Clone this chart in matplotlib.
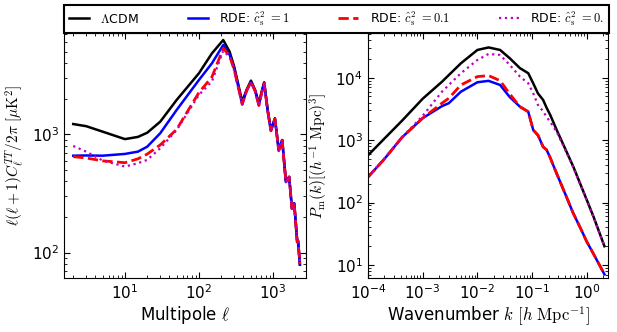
import matplotlib
matplotlib.use("Agg")
import matplotlib.pyplot as plt
import numpy as np

plt.rcParams['mathtext.fontset'] = 'cm'
plt.rcParams['font.family'] = 'DejaVu Sans'

# --- CMB TT spectrum (left panel) ---
ell = [2, 3, 5, 10, 15, 20, 30, 50, 100, 150, 213, 260, 300, 385, 440, 505, 575,
       647, 705, 762, 850, 940, 1065, 1200, 1336, 1500, 1660, 1808, 1943, 2132,
       2190, 2317]
cl_lcdm = [1220, 1170, 1052, 910, 950, 1030, 1277, 1950, 3275, 4830, 6260, 4990,
           3725, 1885, 2370, 2840, 2370, 1830, 2290, 2750, 1605, 1087, 1365, 737,
           895, 398, 438, 237, 261, 124, 126, 79]
cl_c1 = [659, 662, 659, 682, 713, 785, 1020, 1604, 2875, 3980, 5680, 4700, 3600,
         1800, 2330, 2780, 2330, 1760, 2250, 2700, 1590, 1075, 1350, 730, 890,
         395, 435, 236, 260, 123, 125, 80]
cl_c01 = [647, 630, 596, 575, 620, 680, 812, 1100, 2250, 3050, 5320, 4600, 3500,
          1790, 2320, 2770, 2320, 1750, 2240, 2690, 1580, 1070, 1345, 728, 888,
          394, 434, 235, 259, 122, 124, 80]
cl_c0 = [796, 713, 600, 533, 570, 607, 762, 1087, 2148, 2800, 5080, 4500, 3450,
         1780, 2310, 2760, 2310, 1745, 2230, 2680, 1575, 1068, 1340, 726, 886,
         393, 433, 235, 258, 122, 124, 80]

# --- matter power spectrum (right panel) ---
kk = [1e-4, 2e-4, 4.2e-4, 1e-3, 2.25e-3, 3e-3, 5e-3, 1e-2, 1.6e-2, 2.6e-2, 3.9e-2,
      6e-2, 8.5e-2, 0.105, 0.128, 0.159, 0.184, 0.215, 0.282, 0.4, 0.567, 0.8,
      1.0, 1.33, 2.1]
pk_lcdm = [570, 1060, 2050, 4600, 8600, 11000, 17000, 27800, 30500, 27800, 20500,
           14200, 11800, 8100, 5600, 4400, 3300, 2520, 1450, 738, 375, 178, 110,
           59, 20]
pk_c1 = [255, 500, 1110, 2250, 3500, 3900, 5970, 8440, 8900, 7640, 4900, 3430,
         2850, 1450, 1200, 780, 700, 520, 290, 140, 67, 36, 23.6, 15, 7.1]
pk_c01 = [255, 500, 1110, 2250, 3900, 4680, 7640, 10400, 10800, 8960, 5500, 3430,
          2850, 1450, 1200, 780, 700, 520, 290, 140, 67, 36, 23.6, 15, 7.1]
pk_c0 = [259, 510, 1110, 2450, 5970, 7640, 11800, 19200, 24000, 23100, 16000,
         10400, 8130, 5620, 3650, 2900, 2350, 1950, 1350, 710, 365, 175, 108, 58,
         20]

labels = [r'$\Lambda$CDM', r'RDE: $\hat{c}_{\rm s}^2\ {=}1$',
          r'RDE: $\hat{c}_{\rm s}^2\ {=}0.1$', r'RDE: $\hat{c}_{\rm s}^2\ {=}0.$']

fig = plt.figure(figsize=(6.17, 3.32), dpi=100)
ax1 = fig.add_axes([0.1037, 0.1627, 0.3922, 0.738])
ax2 = fig.add_axes([0.5964, 0.1627, 0.389, 0.738])

h = []
h += ax1.plot(ell, cl_lcdm, color='k', lw=1.8)
h += ax1.plot(ell, cl_c1, color='b', lw=1.8)
h += ax1.plot(ell, cl_c01, color='r', lw=2.0, ls='--')
h += ax1.plot(ell, cl_c0, color='m', lw=1.6, ls=':')

ax2.plot(kk, pk_lcdm, color='k', lw=1.8)
ax2.plot(kk, pk_c1, color='b', lw=1.8)
ax2.plot(kk, pk_c01, color='r', lw=2.0, ls='--')
ax2.plot(kk, pk_c0, color='m', lw=1.6, ls=':')

for ax in (ax1, ax2):
    ax.set_xscale('log')
    ax.set_yscale('log')
    ax.tick_params(which='both', direction='in', top=True, right=True, labelsize=11)
    ax.tick_params(which='major', length=4)
    ax.tick_params(which='minor', length=2)

ax1.set_xlim(1.5, 2800)
ax1.set_ylim(61, 7180)
ax1.set_xlabel(r'Multipole $\ell$', fontsize=12, labelpad=2)
ax1.set_ylabel(r'$\ell(\ell+1)C_\ell^{TT}/2\pi\ [\mu{\rm K}^2]$', fontsize=11)

ax2.set_xlim(1e-4, 2.44)
ax2.set_ylim(6.2, 52000)
ax2.set_xlabel(r'Wavenumber $k\ [h\ {\rm Mpc}^{-1}]$', fontsize=12, labelpad=2)
ax2.set_ylabel(r'$P_{\rm m}(k)[(h^{-1}\ {\rm Mpc})^3]$', fontsize=11)

leg = fig.legend(h, labels, loc='lower left', ncol=4, mode='expand',
                 bbox_to_anchor=(0.1037, 0.9006, 0.883, 0.078), borderaxespad=0,
                 fontsize=9, handlelength=1.6, handletextpad=0.9,
                 fancybox=False, framealpha=1)
leg.get_frame().set_edgecolor('k')
leg.get_frame().set_linewidth(1.5)

fig.savefig('out.png', dpi=100)
